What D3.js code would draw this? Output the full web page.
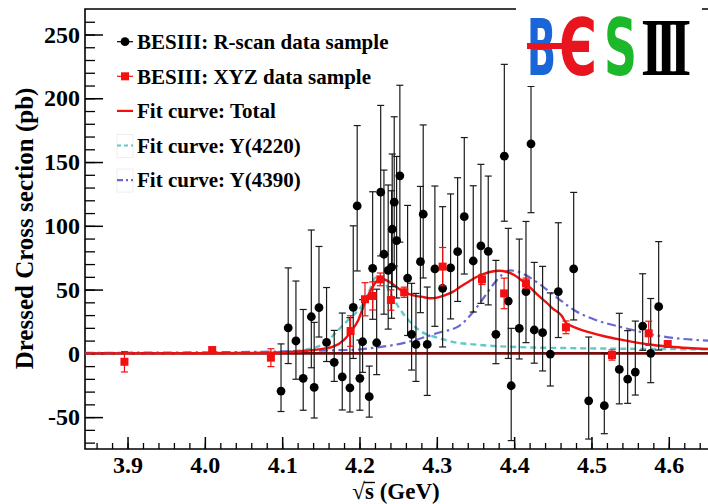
<!DOCTYPE html>
<html><head><meta charset="utf-8">
<script src="https://cdn.jsdelivr.net/npm/d3@7"></script>
<style>body{margin:0;background:#fff}svg{display:block}</style>
</head><body>
<script>
// ---- data ----
const xTickLabels = ["3.9","4.0","4.1","4.2","4.3","4.4","4.5","4.6"];
const yTickLabels = ["-50","0","50","100","150","200","250"];
const legendLabels = ["BESIII: R-scan data sample","BESIII: XYZ data sample","Fit curve: Total","Fit curve: Y(4220)","Fit curve: Y(4390)"];

// R-scan (black circles)
const rsE  = [4.0985,4.1078,4.1178,4.1272,4.1377,4.1414,4.1476,4.1574,4.1673,4.1777,4.1876,4.1919,4.1970,4.2005,4.2040,4.2126,4.2170,4.2222,4.2274,4.2316,4.2371,4.2415,4.2423,4.2449,4.2480,4.2522,4.2622,4.2674,4.2730,4.2788,4.2824,4.2876,4.2975,4.3075,4.3178,4.3269,4.3355,4.3471,4.3570,4.3665,4.3764,4.3873,4.3924,4.3962,4.4066,4.4153,4.4218,4.4260,4.4368,4.4468,4.4571,4.4770,4.4964,4.5166,4.5360,4.5468,4.5567,4.5662,4.5766,4.5869];
const rsV  = [-29.6,20.0,9.7,-19.6,28.7,-26.7,35.8,8.6,-7.0,-18.4,-27.0,36.0,115.6,-19.6,9.1,-34.0,66.7,8.3,126.4,77.7,65.0,67.5,97.3,118.5,88.4,139.2,59.0,14.9,7.0,71.9,109.1,7.0,66.2,51.0,67.0,79.7,107.2,72.4,84.2,80.0,14.9,154.6,41.0,-25.4,19.6,48.4,164.3,18.3,16.2,-0.6,48.4,66.2,-37.2,-41.0,-12.6,-20.2,-14.7,21.4,0.0,36.6];
const rsUp = [37,47,47,54,68,51,48,43,25,50,55,64,63,30,33,24,60,42,68,66,67,60,59,67,66,71,57,40,40,59,70,45,65,64,58,58,62,59,64,59,58,72,57,45,70,55,45,53,52,48,54,60,50,41,44,38,40,41,43,51];
const rsDn = [16,28,30,25,40,24,23,15,15,26,19,40,51,25,24,16,40,25,50,47,46,40,45,50,45,52,45,28,29,40,50,40,45,46,40,39,45,40,45,42,23,51,45,43,24,40,54,26,30,25,36,40,30,22,27,19,18,19,23,34];

// XYZ (red squares)
const xyzE   = [3.896,4.0095,4.0854,4.1885,4.2071,4.2170,4.2269,4.2406,4.2578,4.3075,4.3584,4.3870,4.4153,4.4670,4.5265,4.5740,4.5986];
const xyzV   = [-6.6,2.6,-3.4,17.5,42.4,45.0,58.0,41.8,47.9,68.0,58.0,47.0,55.0,20.4,-1.3,15.7,7.3];
const xyzErr = [8,1.5,7,12,13,11,5,8,4,15,4,12,4,5,4,9.5,2];

// fit curves
const totE = [3.845,4.00,4.08,4.12,4.15,4.166,4.18,4.19,4.1984,4.207,4.215,4.222,4.2264,4.232,4.24,4.25,4.2578,4.27,4.2837,4.2911,4.3005,4.31,4.3212,4.33,4.3406,4.35,4.36,4.37,4.3807,4.39,4.4001,4.41,4.4204,4.43,4.442,4.45,4.4615,4.467,4.4722,4.48,4.50,4.5153,4.54,4.5585,4.58,4.6015,4.625,4.651];
const totV = [0,0.1,0.4,1.5,3.3,5.2,10.5,18,26,40,50,56.5,58.5,58,55.5,51,48,45.5,44,43.2,43.7,45.5,48.4,52,56,59.5,62.2,64,64.8,64,61.5,57,51.8,46,39.7,35,29.5,24,22,20,16,13.6,10.5,8.4,6.5,5.2,4.2,3.4];
const y4220E = [3.845,4.00,4.08,4.10,4.127,4.145,4.1574,4.1704,4.1876,4.2027,4.212,4.222,4.23,4.24,4.2501,4.2652,4.28,4.2997,4.33,4.3428,4.373,4.4161,4.4592,4.5455,4.651];
const y4220V = [0,0.2,0.5,1.2,2.6,5,9,17,27.5,37,48,60,58,47,36.6,24.8,17,12.5,8,7.3,5.8,4.7,4.2,3.6,3.1];
const y4390E = [3.845,4.00,4.10,4.15,4.20,4.2134,4.2565,4.2997,4.33,4.345,4.36,4.373,4.385,4.395,4.405,4.416,4.438,4.459,4.48,4.502,4.5455,4.5886,4.651];
const y4390V = [0.4,0.8,1.5,2.2,3,4,8,15.7,22,31,43,54,62,65,64,61,52,42,33,27,19.5,13.6,9.9];

// ---- drawing ----
const W = 708, H = 504;
const SERIF = "'Liberation Serif','Times New Roman',serif";
const svg = d3.select("body").append("svg").attr("width", W).attr("height", H)
  .style("font-family", SERIF).style("font-weight", "bold");

const L = 85, R = 708, T = 9, B = 449;
const x = d3.scaleLinear().domain([3.845, 4.6507]).range([L, R]);
const y = d3.scaleLinear().domain([-75, 270]).range([B, T]);

const styleTicks = g => g.selectAll("text").attr("fill", "#000")
  .attr("font-family", SERIF).style("font-family", SERIF)
  .attr("font-weight", "bold").style("font-weight", "bold")
  .attr("font-size", 24).style("font-size", "24px");

// minor ticks
svg.append("g").attr("transform", `translate(0,${B})`)
  .call(d3.axisBottom(x).tickValues(d3.range(3.86, 4.645, 0.02)).tickSize(-6).tickFormat(""))
  .call(g => g.select(".domain").remove())
  .call(g => g.selectAll("line").attr("stroke", "#000").attr("stroke-width", 1.3));
svg.append("g").attr("transform", `translate(${L},0)`)
  .call(d3.axisLeft(y).tickValues(d3.range(-70, 261, 10)).tickSize(-10).tickFormat(""))
  .call(g => g.select(".domain").remove())
  .call(g => g.selectAll("line").attr("stroke", "#000").attr("stroke-width", 1.3));

// major ticks + labels
svg.append("g").attr("transform", `translate(0,${B})`)
  .call(d3.axisBottom(x).tickValues(xTickLabels.map(Number)).tickSize(-12).tickPadding(6.5)
        .tickFormat((d, i) => xTickLabels[i]))
  .call(g => g.select(".domain").remove())
  .call(g => g.selectAll("line").attr("stroke", "#000").attr("stroke-width", 1.5))
  .call(styleTicks);
svg.append("g").attr("transform", `translate(${L},0)`)
  .call(d3.axisLeft(y).tickValues(yTickLabels.map(Number)).tickSize(-18).tickPadding(5)
        .tickFormat((d, i) => yTickLabels[i]))
  .call(g => g.select(".domain").remove())
  .call(g => g.selectAll("line").attr("stroke", "#000").attr("stroke-width", 1.5))
  .call(styleTicks);

// frame
svg.append("path").attr("d", `M${R + 2},${T}H${L}V${B}H${R + 2}`)
  .attr("fill", "none").attr("stroke", "#000").attr("stroke-width", 1.6);

// zero line
svg.append("line").attr("x1", L).attr("x2", R).attr("y1", y(0)).attr("y2", y(0))
  .attr("stroke", "#7a0c0c").attr("stroke-width", 2.6);

// curves
const line = d3.line().curve(d3.curveMonotoneX);
const pts = (E, V) => E.map((e, i) => [x(e), y(V[i])]);
svg.append("path").attr("d", line(pts(y4220E, y4220V))).attr("fill", "none")
  .attr("stroke", "#62c9c9").attr("stroke-width", 2.4).attr("stroke-dasharray", "6,4");
svg.append("path").attr("d", line(pts(y4390E, y4390V))).attr("fill", "none")
  .attr("stroke", "#6868d4").attr("stroke-width", 2.2).attr("stroke-dasharray", "9,4,2.5,4");
svg.append("path").attr("d", line(pts(totE, totV))).attr("fill", "none")
  .attr("stroke", "#f01010").attr("stroke-width", 2.4);

// R-scan error bars + points
const cap = 3.5;
const rs = svg.append("g");
rsE.forEach((e, i) => {
  const cx = x(e), top = y(rsV[i] + rsUp[i]), bot = y(rsV[i] - rsDn[i]);
  rs.append("line").attr("x1", cx).attr("x2", cx).attr("y1", top).attr("y2", bot)
    .attr("stroke", "#1a1a1a").attr("stroke-width", 1.2);
  [top, bot].forEach(yy => rs.append("line").attr("x1", cx - cap).attr("x2", cx + cap)
    .attr("y1", yy).attr("y2", yy).attr("stroke", "#1a1a1a").attr("stroke-width", 1.2));
});
rsE.forEach((e, i) => rs.append("circle").attr("cx", x(e)).attr("cy", y(rsV[i])).attr("r", 4.4).attr("fill", "#000"));

// XYZ error bars + squares
const xz = svg.append("g");
xyzE.forEach((e, i) => {
  const cx = x(e), top = y(xyzV[i] + xyzErr[i]), bot = y(xyzV[i] - xyzErr[i]);
  xz.append("line").attr("x1", cx).attr("x2", cx).attr("y1", top).attr("y2", bot)
    .attr("stroke", "#f01010").attr("stroke-width", 1.2);
  [top, bot].forEach(yy => xz.append("line").attr("x1", cx - cap).attr("x2", cx + cap)
    .attr("y1", yy).attr("y2", yy).attr("stroke", "#f01010").attr("stroke-width", 1.2));
});
xyzE.forEach((e, i) => xz.append("rect").attr("x", x(e) - 4).attr("y", y(xyzV[i]) - 4)
  .attr("width", 8).attr("height", 8).attr("fill", "#f41010"));

// legend
const lg = svg.append("g");
const ly0 = 41.7, ldy = 34.6, lx = 125;
legendLabels.forEach((t, i) => {
  const yy = ly0 + i * ldy;
  lg.append("text").attr("x", 137).attr("y", yy).attr("dy", "0.35em")
    .style("font-size", "21px").attr("fill", "#000").text(t);
});
lg.append("line").attr("x1", lx - 8).attr("x2", lx + 8).attr("y1", ly0).attr("y2", ly0).attr("stroke", "#000").attr("stroke-width", 1.2);
lg.append("circle").attr("cx", lx).attr("cy", ly0).attr("r", 4.4).attr("fill", "#000");
lg.append("line").attr("x1", lx - 8).attr("x2", lx + 8).attr("y1", ly0 + ldy).attr("y2", ly0 + ldy).attr("stroke", "#f01010").attr("stroke-width", 1.2);
lg.append("rect").attr("x", lx - 4).attr("y", ly0 + ldy - 4).attr("width", 8).attr("height", 8).attr("fill", "#f41010");
lg.append("line").attr("x1", lx - 8).attr("x2", lx + 8).attr("y1", ly0 + 2 * ldy).attr("y2", ly0 + 2 * ldy).attr("stroke", "#f01010").attr("stroke-width", 2.2);
[3, 4].forEach(k => lg.append("rect").attr("x", lx - 8).attr("y", ly0 + k * ldy - 11).attr("width", 16).attr("height", 23)
  .attr("fill", "none").attr("stroke", "#eeeeee").attr("stroke-width", 1));
lg.append("line").attr("x1", lx - 8).attr("x2", lx + 8).attr("y1", ly0 + 3 * ldy).attr("y2", ly0 + 3 * ldy).attr("stroke", "#62c9c9").attr("stroke-width", 2.2).attr("stroke-dasharray", "4,3");
lg.append("line").attr("x1", lx - 8).attr("x2", lx + 8).attr("y1", ly0 + 4 * ldy).attr("y2", ly0 + 4 * ldy).attr("stroke", "#6868d4").attr("stroke-width", 2.2).attr("stroke-dasharray", "6,3,2,3");

// axis titles
svg.append("text").attr("transform", `translate(33,${(372 + 85) / 2}) rotate(-90)`)
  .attr("text-anchor", "middle").style("font-size", "25px").attr("fill", "#000")
  .text("Dressed Cross section (pb)");
const xt = svg.append("text").attr("x", 396).attr("y", 499).attr("text-anchor", "middle")
  .style("font-size", "23px").attr("fill", "#000").text("√s (GeV)");
// overline of the square-root sign above "s"
const xtb = xt.node().getBBox();
const rootW = xt.node().getSubStringLength(0, 1), sW = xt.node().getSubStringLength(1, 1);
svg.append("line").attr("x1", xtb.x + rootW - 1).attr("x2", xtb.x + rootW + sW + 1)
  .attr("y1", 482.5).attr("y2", 482.5).attr("stroke", "#000").attr("stroke-width", 1.4);

// logo (letters squeezed horizontally with a transform so their boxes do not overlap)
const logo = svg.append("g");
logo.append("rect").attr("x", 516).attr("y", 2).attr("width", 186).attr("height", 84).attr("fill", "#fff");
function letter(txt, x0, w, color, family, size, spacing) {
  const t = logo.append("text").attr("x", 0).attr("y", 0)
    .style("font-family", family).style("font-size", size + "px").style("font-weight", "bold")
    .style("letter-spacing", (spacing || 0) + "px").attr("fill", color).text(txt);
  const bb = t.node().getBBox();
  const s = w / bb.width;
  t.attr("transform", `translate(${x0 - bb.x * s},74.5) scale(${s},1)`);
  return t;
}
const lf = "'DejaVu Sans',sans-serif";
letter("B", 527, 29, "#1a66d8", lf, 78);
letter("Є", 559, 38, "#e8141e", lf, 78);
logo.append("rect").attr("x", 527).attr("y", 43).attr("width", 52).attr("height", 6).attr("fill", "#e8141e");
letter("S", 604, 33, "#1db82a", lf, 78);
letter("III", 641, 49, "#000", "'Liberation Serif',serif", 82, -11);
</script>
</body></html>
